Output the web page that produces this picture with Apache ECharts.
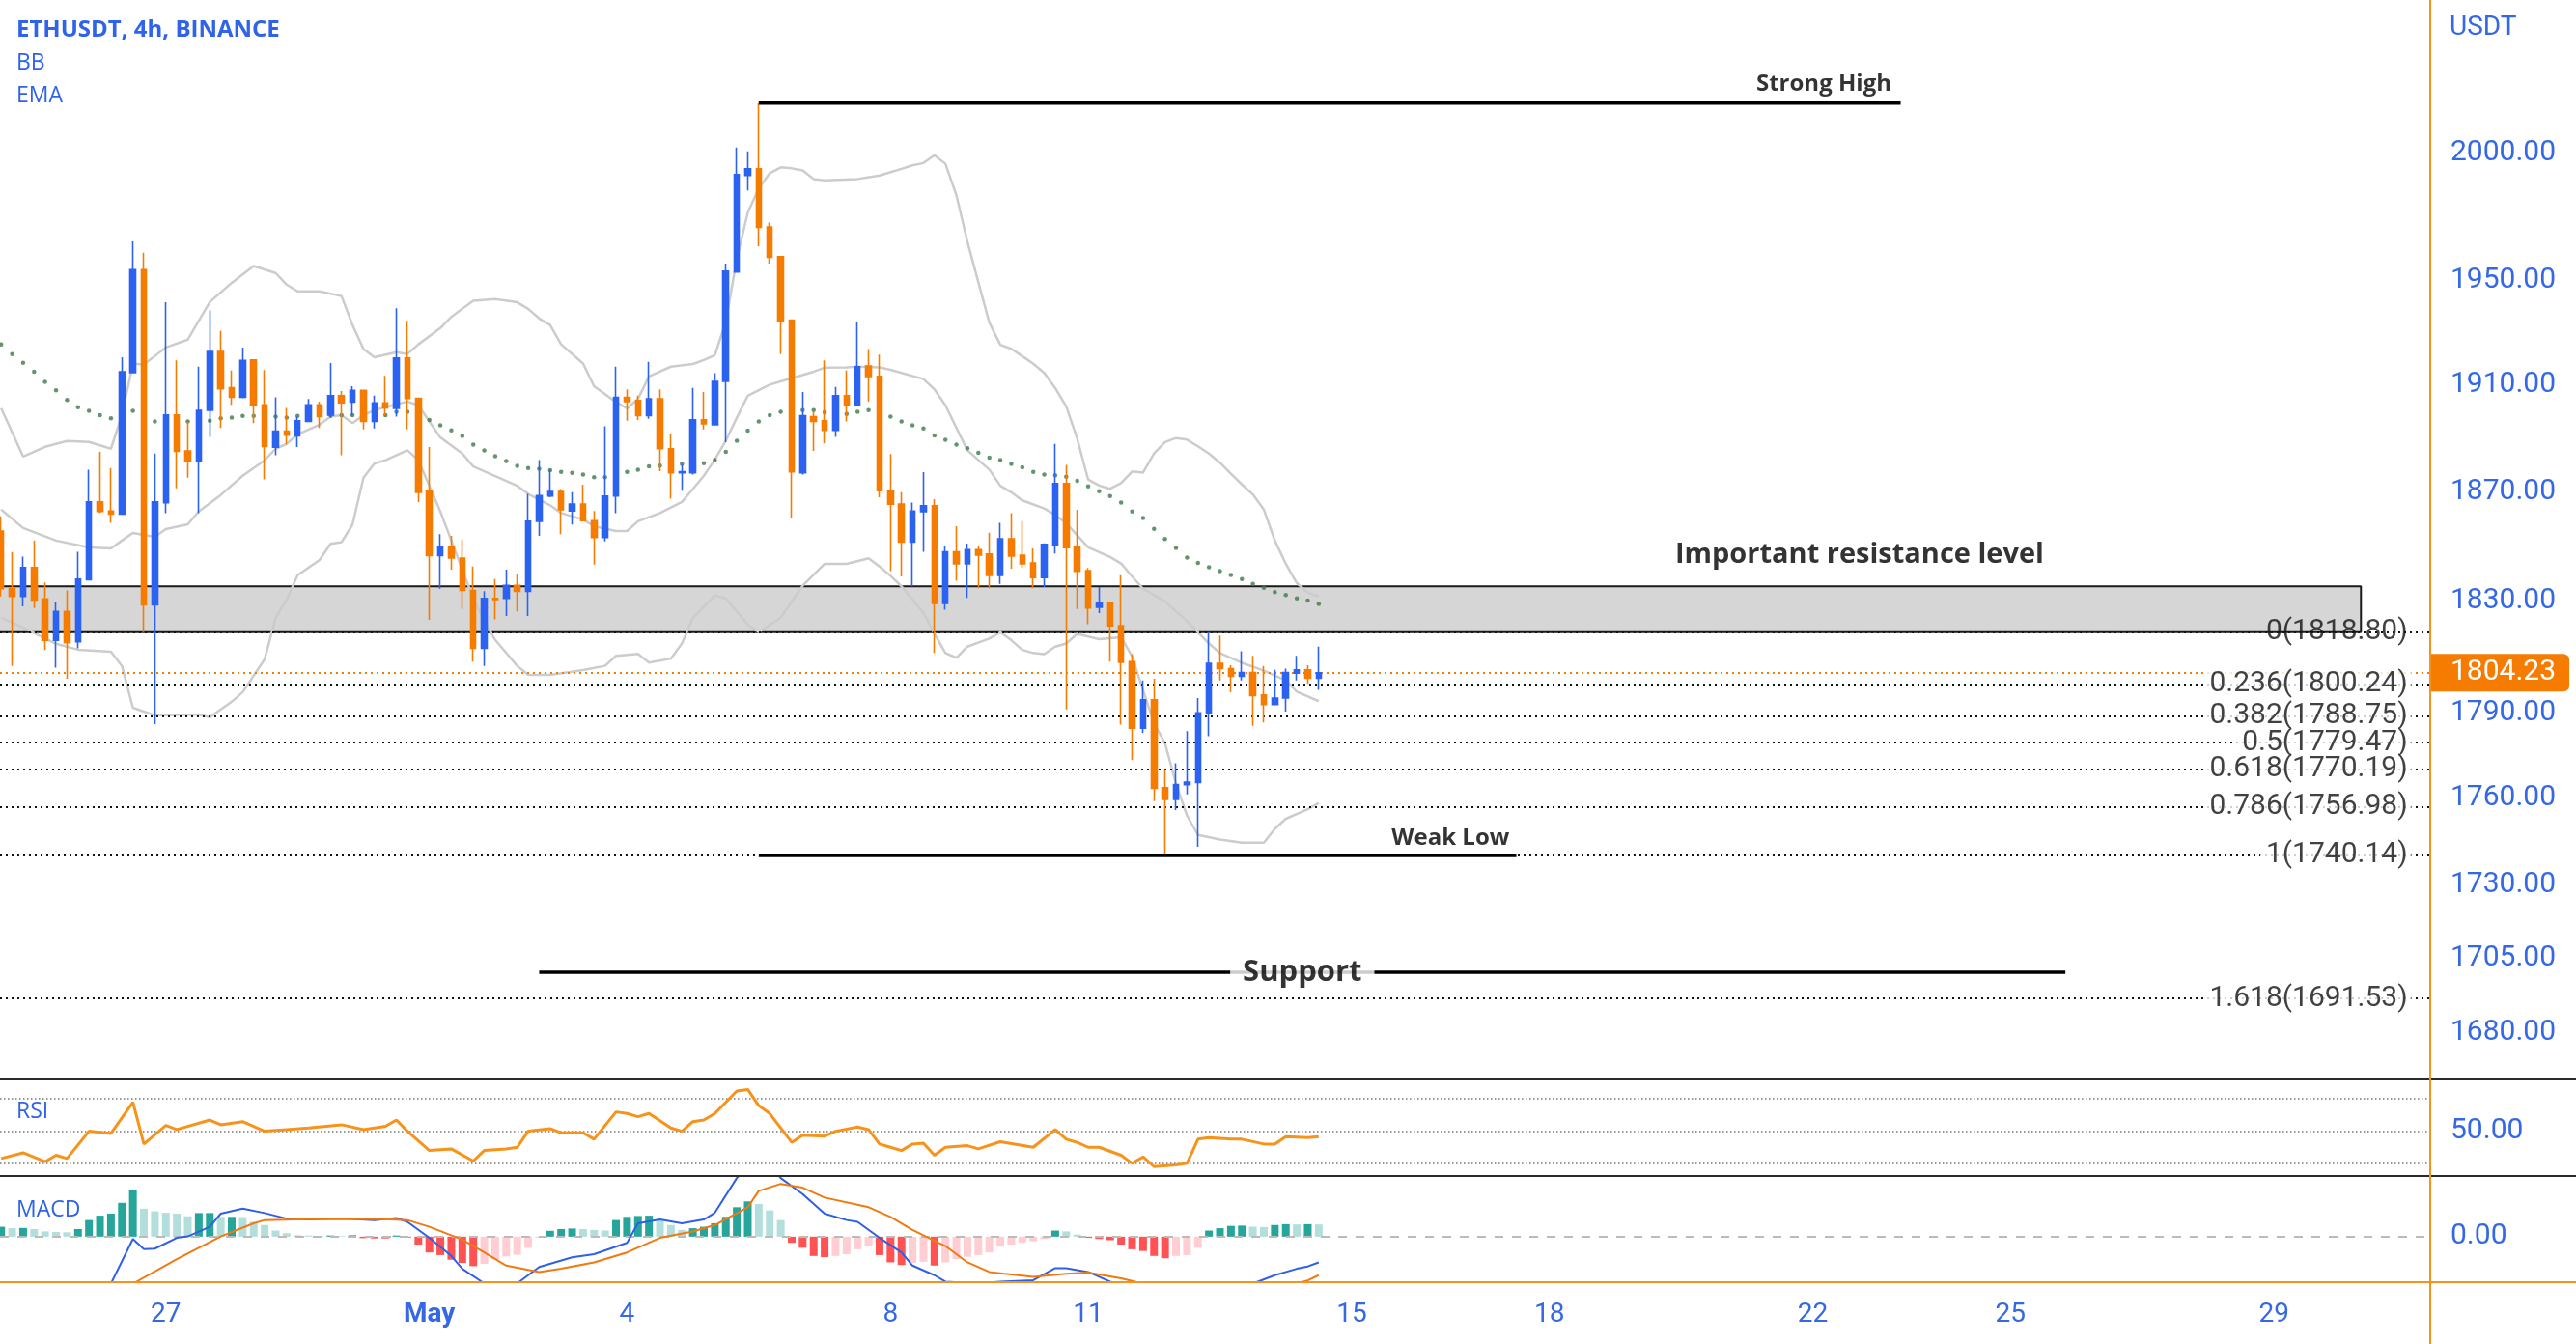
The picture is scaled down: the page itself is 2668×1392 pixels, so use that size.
<!DOCTYPE html>
<html><head><meta charset="utf-8">
<script src="https://cdn.jsdelivr.net/npm/echarts@6/dist/echarts.min.js"></script>
<style>html,body{margin:0;padding:0;background:#fff}#c{width:2668px;height:1392px}</style>
</head><body><div id="c"></div><script>
// ---------- data ----------
const candleStart = Date.UTC(2023, 3, 24, 12);   // first 4h candle (Apr 24 12:00)
const candleHours = 4;
const opens = [1855.6,1834.5,1831.7,1842.2,1830.8,1815.9,1826.3,1815.3,1837.8,1866.3,1863.0,1861.8,1914.7,1954.2,1828.7,1866.0,1898.7,1885.3,1881.3,1900.5,1922.8,1909.0,1905.4,1919.6,1902.6,1886.7,1892.7,1890.9,1896.3,1902.6,1898.7,1906.0,1903.6,1908.0,1896.3,1903.3,1901.2,1920.3,1905.0,1870.3,1846.6,1850.0,1845.7,1833.9,1813.0,1831.0,1831.0,1835.7,1833.6,1859.2,1868.5,1870.2,1863.0,1865.5,1859.4,1853.2,1868.5,1905.4,1904.2,1898.5,1904.8,1886.1,1877.1,1877.1,1896.9,1895.1,1911.4,1953.3,1991.0,1993.6,1970.8,1959.2,1934.8,1877.1,1898.1,1896.6,1893.0,1906.0,1902.6,1917.3,1913.3,1870.5,1865.5,1851.5,1862.7,1864.9,1829.2,1848.0,1843.6,1848.8,1847.2,1839.4,1852.7,1846.7,1843.9,1838.6,1850.3,1873.1,1849.7,1841.1,1827.8,1829.6,1821.1,1808.2,1784.5,1794.6,1763.6,1759.5,1764.7,1765.4,1790.0,1807.6,1805.7,1803.0,1804.3,1796.3,1792.9,1795.2,1804.1,1805.3,1802.3];
const closes = [1834.5,1831.7,1842.2,1830.4,1815.9,1826.3,1815.0,1838.0,1866.3,1862.8,1861.8,1915.1,1954.2,1828.7,1866.3,1898.7,1885.1,1881.3,1900.5,1922.8,1908.6,1905.4,1919.4,1902.6,1886.9,1892.7,1891.2,1896.6,1902.6,1898.1,1906.0,1903.3,1908.0,1896.3,1903.3,1901.4,1920.3,1905.0,1869.9,1846.6,1850.0,1845.7,1833.9,1813.0,1831.0,1830.6,1835.7,1833.6,1859.2,1868.7,1870.2,1863.4,1865.5,1859.4,1853.2,1868.5,1905.4,1903.8,1898.5,1904.8,1886.1,1877.1,1877.5,1896.9,1895.4,1911.4,1953.6,1991.3,1993.6,1970.6,1959.0,1934.4,1877.5,1898.5,1896.3,1893.0,1906.0,1902.6,1917.0,1913.3,1870.5,1865.5,1851.5,1863.0,1864.9,1829.2,1848.0,1843.6,1848.8,1846.8,1839.4,1852.7,1846.4,1843.6,1838.6,1850.7,1873.1,1849.5,1840.9,1827.5,1829.6,1821.1,1808.0,1784.5,1794.6,1763.4,1759.5,1764.7,1765.6,1790.0,1807.6,1805.7,1803.0,1804.3,1796.1,1792.9,1795.2,1804.3,1805.3,1802.3,1804.23];
const lows = [1831.7,1806.7,1828.1,1827.5,1812.4,1806.1,1802.1,1813.0,1837.8,1862.2,1858.6,1861.8,1914.7,1818.8,1786.0,1862.2,1871.4,1875.3,1862.2,1890.5,1893.9,1902.6,1905.0,1895.7,1874.7,1883.7,1887.7,1886.7,1896.3,1893.9,1897.6,1883.7,1898.5,1893.3,1893.7,1898.7,1898.1,1893.3,1866.3,1823.2,1834.5,1841.5,1827.2,1808.2,1806.7,1823.4,1824.6,1826.3,1824.6,1853.8,1868.1,1854.4,1858.0,1859.2,1843.3,1851.8,1862.2,1896.6,1896.9,1897.3,1877.7,1867.5,1870.5,1876.5,1893.3,1894.9,1888.5,1953.3,1985.1,1963.3,1956.5,1921.8,1860.4,1876.5,1885.3,1888.1,1890.5,1896.3,1902.4,1903.8,1868.1,1840.9,1839.0,1835.4,1848.0,1811.3,1826.9,1837.4,1831.2,1834.7,1834.7,1836.3,1841.8,1842.1,1834.7,1835.1,1847.4,1791.2,1827.2,1821.7,1825.7,1808.2,1785.8,1773.3,1782.8,1758.9,1740.1,1755.8,1761.3,1743.1,1781.7,1801.5,1797.3,1801.5,1785.4,1786.6,1792.7,1790.4,1801.5,1800.3,1798.1];
const highs = [1861.0,1847.9,1846.2,1852.1,1836.8,1829.8,1833.9,1848.0,1878.3,1884.9,1878.9,1920.6,1965.2,1960.8,1884.3,1941.6,1919.4,1896.1,1917.0,1938.5,1930.6,1915.5,1924.3,1919.6,1915.7,1905.4,1901.4,1898.1,1904.8,1903.8,1918.4,1907.8,1909.6,1908.0,1906.0,1913.5,1939.3,1934.5,1905.0,1886.7,1854.4,1853.8,1852.3,1842.6,1833.6,1838.0,1841.5,1839.8,1869.3,1881.9,1878.3,1871.1,1869.9,1872.7,1863.0,1894.5,1917.0,1908.4,1906.0,1918.8,1908.4,1891.8,1880.1,1909.0,1907.4,1914.5,1956.5,2002.1,2000.5,2019.7,1972.5,1959.2,1934.8,1907.4,1899.8,1919.4,1909.3,1915.5,1934.1,1923.7,1921.6,1884.1,1869.9,1866.1,1877.4,1867.3,1850.0,1857.4,1851.0,1850.0,1855.0,1858.6,1862.2,1859.2,1849.2,1851.1,1887.9,1880.1,1863.4,1842.1,1835.1,1829.6,1839.4,1810.9,1801.5,1802.1,1770.1,1772.2,1783.5,1795.2,1818.8,1817.6,1806.9,1811.9,1810.3,1806.7,1805.3,1805.7,1810.3,1806.9,1813.6];

const emaValues = [1925.5,1921.8,1918.5,1915.1,1911.2,1908.0,1904.4,1901.7,1900.3,1898.7,1897.5,1898.4,1900.3,1899.5,1896.3,1897.3,1896.6,1896.3,1896.6,1896.6,1897.5,1897.8,1898.4,1898.4,1898.4,1898.1,1897.8,1898.4,1898.7,1898.7,1898.7,1898.7,1898.7,1898.7,1898.7,1898.7,1899.9,1899.9,1898.7,1896.9,1894.9,1893.0,1890.9,1887.6,1885.5,1883.3,1881.5,1879.7,1878.9,1878.6,1878.1,1877.5,1877.1,1876.5,1875.5,1875.5,1876.4,1877.5,1878.3,1879.5,1879.8,1880.0,1880.4,1880.7,1880.7,1881.9,1884.9,1889.1,1892.9,1896.3,1898.7,1899.9,1900.6,1900.6,1900.6,1899.8,1899.4,1899.1,1899.9,1900.6,1899.4,1898.1,1896.3,1894.9,1893.7,1891.1,1889.4,1887.6,1886.3,1884.6,1882.8,1881.9,1880.4,1879.2,1877.5,1876.5,1876.2,1875.7,1874.1,1872.1,1870.3,1868.5,1866.1,1862.8,1860.4,1856.4,1852.7,1849.4,1845.9,1843.9,1842.3,1840.9,1839.5,1838.0,1836.3,1834.9,1833.3,1832.2,1831.0,1830.2,1829.0];

const bbUpperIdx = [0,2,4,6,8,10,11,12,13,15,17,19,21,23,25,26,27,29,31,32,33,34,36,37,38,40,41,42,43,45,47,48,49,50,51,53,54,56,57,58,59,61,63,64,65,66,67,68,69,70,71,72,73,74,75,78,80,82,83,84,85,86,87,88,89,90,91,92,93,94,95,96,97,98,99,100,101,102,103,104,105,106,107,108,109,110,111,112,113,114,115,116,117,118,119,120];
const bbUpper = [1901.3,1883.2,1886.8,1889.0,1888.6,1886.1,1898.7,1918.1,1917.8,1924.3,1927.3,1941.7,1949.1,1955.6,1952.9,1948.4,1945.8,1945.8,1944.0,1932.9,1923.7,1920.6,1922.5,1921.8,1925.5,1931.7,1936.0,1939.1,1942.2,1942.8,1941.6,1939.1,1935.4,1932.9,1925.5,1918.2,1909.6,1903.6,1901.2,1904.8,1913.3,1917.0,1918.0,1919.5,1921.4,1934.3,1958.1,1976.5,1985.9,1991.9,1994.2,1993.8,1993.0,1989.6,1989.1,1989.6,1991.0,1993.6,1995.0,1995.9,1999.0,1995.6,1983.2,1965.1,1949.3,1933.8,1925.3,1923.8,1921.0,1918.1,1914.6,1908.9,1902.0,1889.9,1874.6,1872.4,1871.2,1873.3,1877.6,1877.2,1884.3,1888.6,1890.1,1889.5,1887.0,1884.3,1880.9,1876.8,1872.8,1869.1,1863.5,1852.1,1843.6,1836.6,1833.1,1831.7];
const bbMidIdx = [0,2,5,8,10,11,12,14,15,17,18,20,22,24,25,26,27,29,30,31,32,33,34,35,37,38,39,40,42,43,45,47,48,50,51,53,54,56,57,58,60,62,63,64,65,66,67,68,70,71,72,74,75,77,78,80,81,84,85,86,87,88,90,91,92,93,95,96,97,99,101,102,103,104,106,107,108,109,110,111,113,115,117,118,120];
const bbMid = [1863.5,1856.7,1852.1,1849.6,1849.2,1852.1,1854.9,1853.5,1856.3,1858.1,1862.8,1868.9,1876.0,1881.8,1886.1,1887.9,1891.5,1895.1,1898.1,1898.7,1895.7,1898.7,1900.5,1901.7,1903.8,1902.4,1896.3,1890.3,1884.3,1879.5,1875.9,1872.3,1869.3,1865.1,1862.2,1859.8,1857.4,1855.6,1855.6,1859.2,1862.2,1866.3,1871.1,1876.0,1882.0,1889.1,1897.7,1906.0,1910.2,1911.4,1912.6,1915.1,1916.6,1916.7,1917.0,1916.7,1915.8,1912.3,1908.4,1902.4,1893.9,1885.5,1878.3,1872.3,1869.9,1866.9,1863.9,1861.5,1858.5,1849.6,1846.1,1843.7,1839.0,1834.5,1829.9,1826.3,1822.8,1818.8,1814.7,1811.3,1807.8,1805.0,1801.5,1797.5,1794.1];
const bbLowerIdx = [0,2,5,7,10,11,12,14,18,19,21,22,24,25,26,27,29,30,31,32,33,34,35,37,38,39,40,41,42,43,44,45,47,48,50,53,55,56,58,59,61,62,63,65,66,68,69,71,73,75,77,79,80,81,82,84,85,86,87,88,90,91,92,93,94,95,96,97,98,100,102,103,104,105,106,107,108,109,111,113,115,116,117,119,120];
const bbLower = [1824.0,1820.5,1814.6,1812.5,1811.8,1806.7,1791.8,1789.1,1789.4,1788.4,1793.9,1797.3,1809.1,1824.0,1830.5,1839.4,1845.0,1850.9,1851.5,1858.0,1875.3,1880.6,1881.8,1885.5,1881.8,1872.3,1862.8,1852.1,1841.5,1831.0,1822.8,1816.0,1806.7,1803.5,1803.5,1805.2,1806.7,1810.3,1811.0,1807.9,1809.3,1814.7,1824.0,1832.1,1831.0,1821.5,1818.8,1824.0,1835.6,1843.6,1843.6,1845.6,1842.6,1839.2,1835.4,1825.8,1818.2,1811.3,1809.6,1813.6,1816.5,1818.8,1815.9,1812.4,1811.3,1810.9,1813.6,1814.7,1818.2,1816.3,1817.0,1810.1,1798.0,1786.3,1779.2,1765.0,1753.9,1747.2,1745.6,1744.5,1744.5,1749.3,1752.8,1756.1,1758.3];

const rsiIdx = [0,2,4,5,6,8,10,12,13,15,16,19,20,22,24,26,28,31,33,35,36,37,39,41,43,44,46,47,48,50,51,53,54,56,57,58,59,61,62,63,64,65,67,68,69,70,72,73,75,76,78,79,80,81,82,83,84,85,86,88,89,91,94,96,97,98,99,100,102,103,104,105,107,108,109,110,112,113,115,116,117,119,120];
const rsiValues = [33.0,36.5,31.0,35.0,33.0,49.8,48.4,67.6,41.9,53.4,50.8,56.7,53.8,55.7,49.8,50.8,51.8,53.8,50.8,52.8,56.7,49.8,37.9,38.9,31.4,37.9,38.9,39.9,49.8,51.4,48.8,48.8,44.9,61.7,60.7,58.7,60.7,51.8,49.8,55.7,56.7,60.7,74.6,75.5,65.6,60.7,42.9,47.4,46.8,49.8,52.4,50.8,41.9,39.9,37.9,41.9,42.5,35.0,39.9,40.9,38.9,43.3,39.9,50.8,44.9,42.9,39.9,39.9,35.0,30.0,34.0,28.0,29.0,30.0,44.9,45.8,44.9,44.9,41.9,41.9,46.4,45.8,46.4];
const rsiLevels = [70, 50, 30];

const macdHist = [3.4,2.9,3.0,2.6,1.8,1.6,1.5,2.6,5.7,7.2,7.9,11.6,15.9,9.6,8.7,8.2,7.9,7.0,8.1,8.1,6.8,6.8,6.7,5.1,4.0,2.1,1.2,0.5,0.4,0.2,0.4,0.2,0.5,-0.5,-0.6,-0.6,0.4,-0.3,-2.7,-5.4,-6.3,-7.9,-9.0,-10.1,-9.3,-7.7,-6.8,-6.2,-3.8,-0.4,2.0,2.6,2.8,2.6,2.3,2.1,5.7,6.8,7.1,7.2,5.7,4.0,2.3,2.9,3.4,4.6,6.8,10.1,12.1,11.2,9.0,5.7,-2.1,-3.8,-6.6,-7.0,-6.6,-6.0,-4.3,-3.2,-6.3,-8.8,-9.7,-9.0,-8.6,-9.9,-8.8,-7.7,-6.9,-6.3,-5.4,-3.4,-2.7,-2.1,-1.6,-0.8,2.1,1.8,0.7,-0.4,-0.8,-1.2,-2.7,-4.3,-4.9,-6.6,-7.4,-6.6,-6.3,-3.8,2.1,2.9,3.7,3.8,3.4,3.3,4.0,4.3,4.2,4.3,4.2];
const macdIdx = [0,2,4,6,8,10,12,13,14,16,17,19,20,22,24,26,28,31,34,36,37,39,41,42,44,45,46,47,49,52,54,57,58,60,62,64,65,67,68,69,70,71,73,75,77,78,80,82,83,85,86,89,91,94,96,97,99,101,103,106,109,112,114,116,118,119,120];
const macdLine = [-24,-23,-22,-20,-18,-16.1,-0.8,-4.3,-4.1,-0.4,0.1,3.4,7.9,9.6,8.1,6.2,5.9,6.2,5.7,6.4,5.1,-0.4,-6.6,-11.0,-16.0,-18,-18.5,-16.0,-10.4,-7.1,-6.0,-2.1,4.6,5.9,4.6,5.9,8.2,20.1,24,26,25,20.1,14.6,7.9,5.7,5.1,-0.4,-5.4,-9.9,-13.2,-15.4,-16.0,-15.4,-14.9,-10.8,-10.8,-12.1,-15.4,-18,-20,-19,-17.5,-16.1,-13.2,-11.0,-10.2,-8.8];
const signalIdx = [0,4,8,12,16,20,23,24,28,35,37,39,42,44,46,49,51,54,57,60,63,65,68,69,71,73,75,79,81,83,86,88,90,94,97,99,102,104,107,110,113,116,118,119,120];
const signalLine = [-27,-25,-21,-16.1,-7.7,0.1,4.6,5.7,6.0,6.0,5.7,3.4,-1.0,-5.4,-9.9,-12.1,-11.0,-8.8,-5.4,-0.4,1.8,4.0,10.1,15.7,18.1,16.8,13.4,10.1,6.8,2.3,-3.2,-8.8,-12.1,-13.8,-12.7,-12.3,-14.3,-16.1,-18.5,-19,-18.5,-17.5,-16.0,-15.0,-13.2];

const priceTicks = [2000, 1950, 1910, 1870, 1830, 1790, 1760, 1730, 1705, 1680];
const dayTicks = ['2023-04-27','2023-05-01','2023-05-04','2023-05-08','2023-05-11','2023-05-15','2023-05-18','2023-05-22','2023-05-25','2023-05-29'];
const lastPrice = 1804.23;
const fibRatios = ['0','0.236','0.382','0.5','0.618','0.786','1','1.618'];
const fibPrices = [1818.80,1800.24,1788.75,1779.47,1770.19,1756.98,1740.14,1691.53];
const zoneTop = 1835.4, zoneBottom = 1818.80;
const strongHigh = 2019.7, weakLow = 1740.14, supportLevel = 1700.3;

// ---------- helpers ----------
const HOUR = 3600 * 1000;
const tOf = i => candleStart + i * candleHours * HOUR;
const utc = s => Date.parse(s.length <= 10 ? s + 'T00:00:00Z' : s + 'Z');
const xMin = utc('2023-04-24T11:35:00'), xMax = utc('2023-05-31T08:54:00');
const pairs = (idx, vals) => idx.map((k, j) => [tOf(k), vals[j]]);
const candleData = opens.map((o, i) => [tOf(i), o, closes[i], lows[i], highs[i]]);

const BLUE = '#2c62f0', ORANGE = '#f57c00', AXIS_BLUE = '#3568e4', RSI_ORANGE = '#f7931a';
const numFont = 'Roboto';

const zoneStart = xMin - 2 * 24 * HOUR, zoneEnd = utc('2023-05-30T07:40:00');
const fibLabelT = utc('2023-05-31T02:15:00');
const markStart = tOf(69);

const option = {
  animation: false,
  backgroundColor: '#ffffff',
  title: [
    { text: 'ETHUSDT, 4h, BINANCE', left: 17, top: 17, padding: 0, textStyle: { fontFamily: 'Open Sans', fontSize: 24, lineHeight: 28, fontWeight: 'bold', color: '#2f63e8' } },
    { text: 'BB', left: 17, top: 51, padding: 0, textStyle: { fontFamily: 'Open Sans', fontSize: 23, lineHeight: 28, fontWeight: 'normal', color: '#2f63e8' } },
    { text: 'EMA', left: 17, top: 85, padding: 0, textStyle: { fontFamily: 'Open Sans', fontSize: 23, lineHeight: 28, fontWeight: 'normal', color: '#2f63e8' } },
    { text: 'USDT', left: 2537, top: 13, padding: 0, textStyle: { fontFamily: numFont, fontSize: 28, lineHeight: 32, fontWeight: 'normal', color: AXIS_BLUE } },
    { text: 'RSI', left: 17, top: 1137, padding: 0, textStyle: { fontFamily: 'Open Sans', fontSize: 23, lineHeight: 28, fontWeight: 'normal', color: '#2f63e8' } },
    { text: 'MACD', left: 17, top: 1239, padding: 0, textStyle: { fontFamily: 'Open Sans', fontSize: 23, lineHeight: 28, fontWeight: 'normal', color: '#2f63e8' } }
  ],
  grid: [
    { left: 0, right: 151, top: 0, height: 1118 },
    { left: 0, right: 151, top: 1118, height: 100 },
    { left: 0, right: 151, top: 1218, height: 110 }
  ],
  xAxis: [0, 1, 2].map(g => ({
    type: 'value', gridIndex: g, min: xMin, max: xMax, scale: true,
    axisLine: { show: false }, axisTick: { show: false }, splitLine: { show: false },
    axisLabel: {
      show: g === 2, customValues: dayTicks.map(utc), margin: 20, hideOverlap: false,
      showMinLabel: true, showMaxLabel: true,
      fontFamily: numFont, fontSize: 28, color: AXIS_BLUE,
      formatter: v => { const d = new Date(v); return d.getUTCDate() === 1 ? '{b|May}' : String(d.getUTCDate()); },
      rich: { b: { fontFamily: numFont, fontSize: 28, fontWeight: 'bold', color: AXIS_BLUE } }
    }
  })),
  yAxis: [
    { type: 'log', logBase: 10, gridIndex: 0, position: 'right', min: 1664.6, max: 2061.4,
      axisLine: { show: false }, axisTick: { show: false }, splitLine: { show: false },
      axisLabel: { customValues: priceTicks, formatter: v => Number(v).toFixed(2), margin: 21, fontFamily: numFont, fontSize: 30, color: AXIS_BLUE } },
    { type: 'value', gridIndex: 1, position: 'right', min: 22.2, max: 81.7,
      axisLine: { show: false }, axisTick: { show: false }, splitLine: { show: false },
      axisLabel: { customValues: [50], formatter: v => Number(v).toFixed(2), margin: 21, fontFamily: numFont, fontSize: 30, color: AXIS_BLUE } },
    { type: 'value', gridIndex: 2, position: 'right', min: -15.6, max: 20.8,
      axisLine: { show: false }, axisTick: { show: false }, splitLine: { show: false },
      axisLabel: { customValues: [0], formatter: v => Number(v).toFixed(2), margin: 21, fontFamily: numFont, fontSize: 30, color: AXIS_BLUE } }
  ],
  graphic: [
    { type: 'line', z: 100, shape: { x1: 0, y1: 1118, x2: 2668, y2: 1118 }, style: { stroke: '#2b2b2b', lineWidth: 2 } },
    { type: 'line', z: 100, shape: { x1: 0, y1: 1218, x2: 2668, y2: 1218 }, style: { stroke: '#2b2b2b', lineWidth: 2 } },
    { type: 'line', z: 100, shape: { x1: 0, y1: 1328, x2: 2668, y2: 1328 }, style: { stroke: RSI_ORANGE, lineWidth: 2 } },
    { type: 'line', z: 100, shape: { x1: 2517, y1: 0, x2: 2517, y2: 1392 }, style: { stroke: RSI_ORANGE, lineWidth: 2 } }
  ],
  series: [
    { type: 'line', xAxisIndex: 0, yAxisIndex: 0, data: [], z: 1, silent: true,
      markArea: { silent: true, itemStyle: { color: '#d6d6d6', borderWidth: 0 },
        data: [[{ xAxis: zoneStart, yAxis: zoneTop }, { xAxis: zoneEnd, yAxis: zoneBottom }]] } },
    { type: 'line', xAxisIndex: 0, yAxisIndex: 0, data: [], z: 2, silent: true,
      markLine: { silent: true, symbol: 'none', label: { show: false },
        lineStyle: { color: '#111', width: 2, type: [2, 4] },
        data: fibPrices.map(p => ({ yAxis: p })) } },
    { type: 'line', xAxisIndex: 0, yAxisIndex: 0, z: 3, silent: true, symbol: 'none',
      lineStyle: { color: '#1a1a1a', width: 2 },
      data: [[zoneStart, zoneTop], [zoneEnd, zoneTop], [zoneEnd, zoneBottom], [zoneStart, zoneBottom]] },
    { type: 'line', xAxisIndex: 0, yAxisIndex: 0, z: 4, symbol: 'none', silent: true, lineStyle: { color: '#cccccc', width: 2.5 }, data: pairs(bbUpperIdx, bbUpper) },
    { type: 'line', xAxisIndex: 0, yAxisIndex: 0, z: 4, symbol: 'none', silent: true, lineStyle: { color: '#cccccc', width: 2.5 }, data: pairs(bbMidIdx, bbMid) },
    { type: 'line', xAxisIndex: 0, yAxisIndex: 0, z: 4, symbol: 'none', silent: true, lineStyle: { color: '#cccccc', width: 2.5 }, data: pairs(bbLowerIdx, bbLower) },
    { type: 'scatter', xAxisIndex: 0, yAxisIndex: 0, z: 5, silent: true, symbolSize: 4.5, itemStyle: { color: '#3b7a48' },
      data: emaValues.map((v, i) => [tOf(i), v]) },
    { type: 'candlestick', xAxisIndex: 0, yAxisIndex: 0, z: 6, barWidth: 6,
      dimensions: ['time', 'open', 'close', 'lowest', 'highest'], encode: { x: 0, y: [1, 2, 3, 4] },
      itemStyle: { color: BLUE, color0: ORANGE, borderColor: BLUE, borderColor0: ORANGE, borderWidth: 1.6 },
      data: candleData,
      markLine: { silent: true, symbol: 'none',
        lineStyle: { color: ORANGE, width: 2, type: [2, 4] },
        label: { show: true, position: 'end', distance: 0, formatter: lastPrice.toFixed(2),
          backgroundColor: ORANGE, color: '#fff', fontFamily: numFont, fontSize: 30,
          padding: [5, 14, 4, 21], borderRadius: [0, 6, 6, 0] },
        data: [{ yAxis: lastPrice }] } },
    { type: 'line', xAxisIndex: 0, yAxisIndex: 0, z: 7, symbol: 'none', silent: true, lineStyle: { color: '#000', width: 3.5 },
      data: [[markStart, strongHigh], [utc('2023-05-23T08:00:00'), strongHigh]] },
    { type: 'line', xAxisIndex: 0, yAxisIndex: 0, z: 7, symbol: 'none', silent: true, lineStyle: { color: '#000', width: 3.5 },
      data: [[markStart, weakLow], [utc('2023-05-17T12:00:00'), weakLow]] },
    { type: 'line', xAxisIndex: 0, yAxisIndex: 0, z: 7, symbol: 'none', silent: true, lineStyle: { color: '#000', width: 3.5 },
      data: [[utc('2023-05-02T16:00:00'), supportLevel], [utc('2023-05-25T20:00:00'), supportLevel]] },
    { type: 'scatter', xAxisIndex: 0, yAxisIndex: 0, z: 8, silent: true, symbolSize: 1, itemStyle: { color: 'rgba(0,0,0,0)' },
      label: { show: true, position: 'left', distance: 0, color: '#111', fontFamily: numFont, fontSize: 30,
        formatter: p => p.data.value[2] },
      data: fibPrices.map((p, i) => ({ value: [fibLabelT, p, fibRatios[i] + '(' + p.toFixed(2) + ')'],
        label: { backgroundColor: i === 0 ? 'transparent' : '#ffffff', padding: [0, 4, 0, 6] } })) },
    { type: 'scatter', xAxisIndex: 0, yAxisIndex: 0, z: 9, silent: true, symbolSize: 1, itemStyle: { color: 'rgba(0,0,0,0)' },
      label: { show: true, position: 'inside', color: '#000', fontFamily: 'Open Sans', fontWeight: 'bold', formatter: p => p.data.value[2] },
      data: [
        { value: [utc('2023-05-22T04:00:00'), 2027.4, 'Strong High'], label: { fontSize: 24 } },
        { value: [utc('2023-05-22T17:00:00'), 1846.8, 'Important resistance level'], label: { fontSize: 29 } },
        { value: [utc('2023-05-16T12:00:00'), 1746.2, 'Weak Low'], label: { fontSize: 24 } },
        { value: [utc('2023-05-14T06:00:00'), supportLevel, 'Support'], label: { fontSize: 31, backgroundColor: '#ffffff', padding: [2, 13] } }
      ] },
    { type: 'line', xAxisIndex: 1, yAxisIndex: 1, z: 5, symbol: 'none', silent: true,
      lineStyle: { color: RSI_ORANGE, width: 3 }, data: pairs(rsiIdx, rsiValues),
      markLine: { silent: true, symbol: 'none', label: { show: false },
        lineStyle: { color: '#777', width: 1.5, type: [1.5, 2.5] },
        data: rsiLevels.map(v => ({ yAxis: v })) } },
    { type: 'bar', xAxisIndex: 2, yAxisIndex: 2, z: 3, barWidth: 8, silent: true,
      itemStyle: { color: p => {
        const v = macdHist[p.dataIndex], prev = p.dataIndex > 0 ? macdHist[p.dataIndex - 1] : v;
        if (v >= 0) return v >= prev ? '#26a69a' : '#b2dfdb';
        return v <= prev ? '#ff5252' : '#ffcdd2';
      } },
      data: macdHist.map((v, i) => [tOf(i), v]),
      markLine: { silent: true, symbol: 'none', label: { show: false },
        lineStyle: { color: '#bbbbbb', width: 2, type: [9, 9] }, data: [{ yAxis: 0 }] } },
    { type: 'line', xAxisIndex: 2, yAxisIndex: 2, z: 5, symbol: 'none', silent: true,
      lineStyle: { color: '#2f5fe6', width: 2 }, data: pairs(macdIdx, macdLine) },
    { type: 'line', xAxisIndex: 2, yAxisIndex: 2, z: 5, symbol: 'none', silent: true,
      lineStyle: { color: '#f07a10', width: 2 }, data: pairs(signalIdx, signalLine) }
  ]
};
const chart = echarts.init(document.getElementById('c'), null, { renderer: 'canvas' });
chart.setOption(option);
</script></body></html>
